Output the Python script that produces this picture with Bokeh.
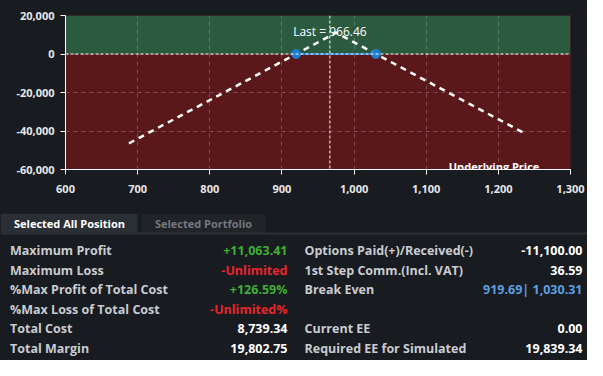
from bokeh.plotting import figure
from bokeh.layouts import column
from bokeh.models import (BoxAnnotation, Span, Label, FixedTicker,
                          NumeralTickFormatter, Range1d)
from bokeh.core.properties import value
from bokeh.embed import file_html
from bokeh.resources import INLINE

# ---------------- data ----------------
payoff_x = [688, 919.69, 975, 1030.31, 1234]
payoff_y = [-46400, 0, 11063.41, 0, -40700]
breakeven_x = [919.69, 1030.31]
breakeven_y = [0, 0]
last_price = 966.46
x_ticks = [600, 700, 800, 900, 1000, 1100, 1200, 1300]
y_ticks = [-60000, -40000, -20000, 0, 20000]

tab_labels = ["Selected All Position", "Selected Portfolio"]

left_labels = ["Maximum Profit", "Maximum Loss", "%Max Profit of Total Cost",
               "%Max Loss of Total Cost", "Total Cost", "Total Margin"]
left_values = ["+11,063.41", "-Unlimited", "+126.59%", "-Unlimited%",
               "8,739.34", "19,802.75"]
right_labels = ["Options Paid(+)/Received(-)", "1st Step Comm.(Incl. VAT)",
                "Break Even", "", "Current EE", "Required EE for Simulated"]
right_values = ["-11,100.00", "36.59", "919.69| 1,030.31", "", "0.00",
                "19,839.34"]

# ---------------- style ----------------
BG = "#181b20"
GREEN = "#2b5a3e"
RED = "#5a181b"
FONT = "Open Sans"
C_GREEN = "#3cb034"
C_RED = "#e8252a"
C_BLUE = "#5b9fe0"
C_WHITE = "#ffffff"
C_LABEL = "#c9ccd0"

W = 587
CH = 213
TH = 147

# ---------------- chart ----------------
p = figure(width=W, height=CH, x_range=Range1d(600, 1300),
           y_range=Range1d(-60000, 20000), output_backend="svg",
           toolbar_location=None, background_fill_color=RED,
           border_fill_color=BG, min_border_left=65, min_border_right=17,
           min_border_top=15, min_border_bottom=44, outline_line_color=None)

p.add_layout(BoxAnnotation(bottom=0, fill_color=GREEN, fill_alpha=1,
                           line_color=None, level="image"))

for ax in (p.xaxis[0], p.yaxis[0]):
    ax.axis_line_color = "#ffffff"
    ax.axis_line_width = 1
    ax.major_tick_line_color = "#ffffff"
    ax.major_tick_out = 5
    ax.major_tick_in = 0
    ax.minor_tick_line_color = None
    ax.major_label_text_color = "#e8e8e8"
    ax.major_label_text_font = FONT
    ax.major_label_text_font_style = "bold"
    ax.major_label_text_font_size = "11px"
    ax.formatter = NumeralTickFormatter(format="0,0")

p.xaxis.ticker = FixedTicker(ticks=x_ticks)
p.yaxis.ticker = FixedTicker(ticks=y_ticks)
p.xaxis.major_label_standoff = 10
p.yaxis.major_label_standoff = 6

for g in (p.xgrid[0], p.ygrid[0]):
    g.grid_line_color = "#ffffff"
    g.grid_line_alpha = 0.22
    g.grid_line_dash = "4 4"
    g.grid_line_width = 1

p.add_layout(Span(location=0, dimension="width", line_color="#ffffff",
                  line_dash="3 2", line_width=1))
p.add_layout(Span(location=last_price, dimension="height",
                  line_color="#ffffff", line_dash="3 2", line_width=1))

p.line(payoff_x, payoff_y, line_color="#ffffff", line_width=2.5,
       line_dash="6 5")
p.line(breakeven_x, breakeven_y, line_color="#1e7fd0", line_width=2)
p.scatter(breakeven_x, breakeven_y, size=9, fill_color="#1e7fd0",
          line_color="#1e7fd0")

p.add_layout(Label(x=last_price, y=11900, text=f"Last = {last_price:.2f}",
                   text_align="center", text_baseline="middle",
                   text_color="#ffffff", text_font=FONT,
                   text_font_size="12px"))
p.add_layout(Label(x=1194, y=-58600, text="Underlying Price",
                   text_align="center", text_baseline="middle",
                   text_color="#ffffff", text_font=FONT,
                   text_font_style="bold", text_font_size="11px"))

# ---------------- table ----------------
t = figure(width=W, height=TH, x_range=Range1d(0, W), y_range=Range1d(TH, 0),
           output_backend="svg", toolbar_location=None,
           x_axis_location=None, y_axis_location=None,
           background_fill_color=BG, border_fill_color=BG, min_border=0,
           outline_line_color=None)
t.grid.visible = False
t.frame_align = False

# tabs
t.quad(left=[0, 141], right=[137, 265], top=[0, 0], bottom=[19, 19],
       fill_color=["#2a2f36", "#202328"], line_color=None)
t.quad(left=[0], right=[W], top=[19], bottom=[21], fill_color="#2b3036",
       line_color=None)
t.text(x=[69, 203], y=[9.5, 9.5], text=tab_labels,
       text_color=["#ffffff", "#74787e"], text_align="center",
       text_baseline="middle", text_font=value(FONT),
       text_font_style="bold", text_font_size="11px")

row_y = [36.5, 56.6, 76.2, 95.8, 115.4, 135]
lcol = [C_GREEN, C_RED, C_GREEN, C_RED, C_WHITE, C_WHITE]
rcol = [C_WHITE, C_WHITE, C_BLUE, C_WHITE, C_WHITE, C_WHITE]

t.text(x=[9.5] * 6, y=row_y, text=left_labels, text_color=C_LABEL,
       text_align="left", text_baseline="middle", text_font=value(FONT),
       text_font_style="bold", text_font_size="12.5px")
t.text(x=[287] * 6, y=row_y, text=left_values, text_color=lcol,
       text_align="right", text_baseline="middle", text_font=value(FONT),
       text_font_style="bold", text_font_size="12.5px")
t.text(x=[304] * 6, y=row_y, text=right_labels, text_color=C_LABEL,
       text_align="left", text_baseline="middle", text_font=value(FONT),
       text_font_style="bold", text_font_size="12.5px")
t.text(x=[582] * 6, y=row_y, text=right_values, text_color=rcol,
       text_align="right", text_baseline="middle", text_font=value(FONT),
       text_font_style="bold", text_font_size="12.5px")

layout = column(p, t, spacing=0, styles={"background-color": BG})
open("out.html", "w").write(file_html(layout, INLINE))
